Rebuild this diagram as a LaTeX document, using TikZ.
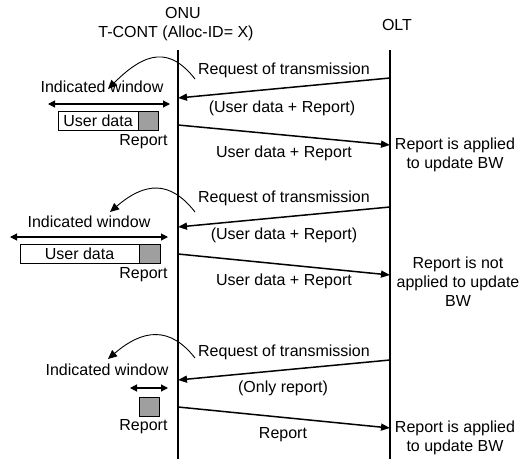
\documentclass[tikz,border=0pt]{standalone}
\usepackage{fontspec}
\setmainfont{Liberation Sans}
\usetikzlibrary{arrows.meta}
\tikzset{msg/.style={-{Triangle[length=9pt,width=7pt]},line width=1.5pt},
  life/.style={line width=1.1pt},
  win/.style={{Triangle[length=7pt,width=7pt]}-{Triangle[length=7pt,width=7pt]},line width=1.1pt},
  hop/.style={-{Triangle[length=9pt,width=8pt]},line width=0.9pt},
  databox/.style={draw,line width=0.9pt,fill=white,minimum height=19pt,inner sep=0pt},
  repbox/.style={draw,line width=0.9pt,fill=gray!75,minimum width=20pt,minimum height=19pt,inner sep=0pt}}
\begin{document}
\begin{tikzpicture}[x=1pt,y=-1pt]
                  \tikzstyle{every node}=[font=\fontsize{16}{19}\selectfont]
                  \useasboundingbox (0,0) rectangle (531,461);
                  \node (onu) at (183,13) {ONU};
                  \node (tcont) at (176,33) {T-CONT (Alloc-ID= X)};
                  \node (olt) at (397,25) {OLT};
                  \coordinate (onutop) at (178,50);
                  \coordinate (onubot) at (178,459);
                  \coordinate (olttop) at (390,50);
                  \coordinate (oltbot) at (390,459);
                  \draw[life] (onutop) -- (onubot);
                  \draw[life] (olttop) -- (oltbot);
                  % first grant: user data + report
                  \coordinate (reqa) at (390,78);
                  \coordinate (reqaend) at (178,98);
                  \coordinate (rspa) at (178,125);
                  \coordinate (rspaend) at (390,145);
                  \draw[msg] (reqa) -- (reqaend);
                  \draw[msg] (rspa) -- (rspaend);
                  \node (reqalabel) at (284,70) {Request of transmission};
                  \node (grantalabel) at (282,108) {(User data + Report)};
                  \node (rspalabel) at (284,153) {User data + Report};
                  \coordinate (hopa) at (195,79);
                  \coordinate (hopaend) at (108,89);
                  \draw[hop] (hopa) .. controls +(-25,-32) and +(38,-38) .. (hopaend);
                  \node (wina) at (102,87) {Indicated window};
                  \coordinate (winal) at (48,104);
                  \coordinate (winar) at (170,104);
                  \draw[win] (winal) -- (winar);
                  \node[databox,minimum width=80pt] (uda) at (98,120.5) {User data};
                  \node[repbox] (repa) at (148,120.5) {};
                  \node[anchor=east] (repalabel) at (171,142) {Report};
                  \node[align=center] (olta) at (455,155) {Report is applied\\to update BW};
                  % second grant: report not used
                  \coordinate (reqb) at (390,207);
                  \coordinate (reqbend) at (178,227);
                  \coordinate (rspb) at (178,254);
                  \coordinate (rspbend) at (390,275);
                  \draw[msg] (reqb) -- (reqbend);
                  \draw[msg] (rspb) -- (rspbend);
                  \node (reqblabel) at (284,198) {Request of transmission};
                  \node (grantblabel) at (284,235) {(User data + Report)};
                  \node (rspblabel) at (284,281) {User data + Report};
                  \coordinate (hopb) at (195,212);
                  \coordinate (hopbend) at (110,212);
                  \draw[hop] (hopb) .. controls +(-25,-32) and +(35,-30) .. (hopbend);
                  \node (winb) at (89,222) {Indicated window};
                  \coordinate (winbl) at (10,237);
                  \coordinate (winbr) at (168,237);
                  \draw[win] (winbl) -- (winbr);
                  \node[databox,minimum width=119pt] (udb) at (79.5,253.5) {User data};
                  \node[repbox,minimum width=21pt] (repb) at (149.5,253.5) {};
                  \node[anchor=east] (repblabel) at (171,275) {Report};
                  \node[align=center] (oltb) at (458,282) {Report is not\\applied to update\\BW};
                  % third grant: only report
                  \coordinate (reqc) at (390,360);
                  \coordinate (reqcend) at (178,380);
                  \coordinate (rspc) at (178,407);
                  \coordinate (rspcend) at (390,428);
                  \draw[msg] (reqc) -- (reqcend);
                  \draw[msg] (rspc) -- (rspcend);
                  \node (reqclabel) at (284,352) {Request of transmission};
                  \node (grantclabel) at (283,388) {(Only report)};
                  \node (rspclabel) at (283,435) {Report};
                  \coordinate (hopc) at (195,358);
                  \coordinate (hopcend) at (108,359);
                  \draw[hop] (hopc) .. controls +(-25,-32) and +(35,-30) .. (hopcend);
                  \node (winc) at (107,370) {Indicated window};
                  \coordinate (wincl) at (130,388);
                  \coordinate (wincr) at (168,388);
                  \draw[win] (wincl) -- (wincr);
                  \node[repbox] (repc) at (149,407) {};
                  \node[anchor=east] (repclabel) at (171,427) {Report};
                  \node[align=center] (oltc) at (455,437.5) {Report is applied\\to update BW};
              \end{tikzpicture}
\end{document}
